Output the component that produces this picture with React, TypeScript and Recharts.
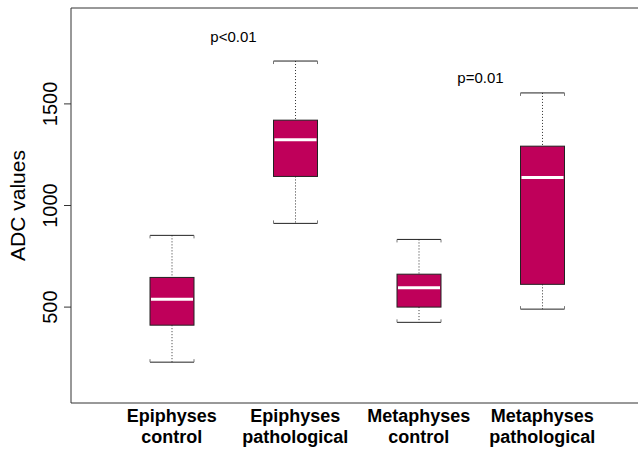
import React from "react";
import {
  ComposedChart,
  Bar,
  XAxis,
  YAxis,
  ReferenceLine,
  ReferenceDot,
} from "recharts";

const categories = [
  "Epiphyses\ncontrol",
  "Epiphyses\npathological",
  "Metaphyses\ncontrol",
  "Metaphyses\npathological",
];
const positions = [1, 2, 3, 4];
const whiskerLow = [229, 912, 425, 490];
const q1 = [411, 1143, 500, 612];
const median = [539, 1323, 595, 1138];
const q3 = [646, 1420, 662, 1292];
const whiskerHigh = [853, 1711, 833, 1554];

const yTicks = [500, 1000, 1500];

const pLabels = ["p<0.01", "p=0.01"];
const pX = [1.5, 3.5];
const pY = [1830, 1630];

const FONT = "'Liberation Sans', Arial, Helvetica, sans-serif";
const BOX_FILL = "#BF005A";

const data = categories.map((name, i) => ({
  name,
  pos: positions[i],
  low: whiskerLow[i],
  q1: q1[i],
  median: median[i],
  q3: q3[i],
  high: whiskerHigh[i],
}));

const BoxShape = (props: any) => {
  const { x, y, width, height, payload } = props;
  const top = Math.min(y, y + height);
  const bottom = Math.max(y, y + height);
  const lo = payload.low;
  const hi = payload.high;
  const py = (v: number) => bottom - ((v - lo) / (hi - lo)) * (bottom - top);
  const cx = x + width / 2;
  const yHi = py(hi);
  const yLo = py(lo);
  const yQ3 = py(payload.q3);
  const yQ1 = py(payload.q1);
  const yMed = py(payload.median);
  return (
    <g>
      {/* whiskers */}
      <line x1={cx} x2={cx} y1={yHi} y2={yQ3} stroke="#333" strokeDasharray="1 2" />
      <line x1={cx} x2={cx} y1={yQ1} y2={yLo} stroke="#333" strokeDasharray="1 2" />
      {/* caps */}
      <line x1={x} x2={x + width} y1={yHi} y2={yHi} stroke="#222" />
      <line x1={x} x2={x} y1={yHi} y2={yHi + 3} stroke="#777" />
      <line x1={x + width} x2={x + width} y1={yHi} y2={yHi + 3} stroke="#777" />
      <line x1={x} x2={x + width} y1={yLo} y2={yLo} stroke="#222" />
      <line x1={x} x2={x} y1={yLo} y2={yLo - 3} stroke="#777" />
      <line x1={x + width} x2={x + width} y1={yLo} y2={yLo - 3} stroke="#777" />
      {/* box */}
      <rect x={x} y={yQ3} width={width} height={yQ1 - yQ3} fill={BOX_FILL} stroke="#222" />
      <line x1={x + 1} x2={x + width - 1} y1={yMed} y2={yMed} stroke="#fff" strokeWidth={3} />
    </g>
  );
};

const YTick = ({ y, payload }: any) => (
  <text
    x={50}
    y={y}
    transform={`rotate(-90, 50, ${y})`}
    textAnchor="middle"
    dominantBaseline="central"
    fontFamily={FONT}
    fontSize={20}
    fill="#000"
  >
    {payload.value}
  </text>
);

const XTick = ({ x, y, payload }: any) => {
  const lines = String(payload.value).split("\n");
  return (
    <g>
      {lines.map((l, i) => (
        <text
          key={i}
          x={x}
          y={y + 11 + i * 21}
          textAnchor="middle"
          dominantBaseline="central"
          fontFamily={FONT}
          fontSize={18}
          fontWeight="bold"
          fill="#000"
        >
          {l}
        </text>
      ))}
    </g>
  );
};

export default function App() {
  return (
    <div
      style={{
        position: "absolute",
        left: 0,
        top: 0,
        width: 638,
        height: 451,
        overflow: "hidden",
        background: "#fff",
      }}
    >
      <ComposedChart
        width={650}
        height={451}
        data={data}
        margin={{ top: 8, right: 7, left: 0, bottom: 0 }}
      >
        <XAxis
          dataKey="name"
          type="category"
          padding={{ left: 39, right: 39 }}
          axisLine={{ stroke: "#333" }}
          tickLine={false}
          tickSize={0}
          height={48}
          tick={<XTick />}
          interval={0}
        />
        <XAxis
          xAxisId="num"
          dataKey="pos"
          type="number"
          domain={[0.184, 4.816]}
          allowDataOverflow
          hide
        />
        <YAxis
          type="number"
          domain={[28, 1972]}
          ticks={yTicks}
          allowDataOverflow
          width={71}
          axisLine={{ stroke: "#333" }}
          tickLine={{ stroke: "#333" }}
          tickSize={7}
          tick={<YTick />}
          label={{
            content: ({ viewBox }: any) => {
              const cy = viewBox.y + viewBox.height / 2;
              return (
                <text
                  x={17}
                  y={cy}
                  transform={`rotate(-90, 17, ${cy})`}
                  textAnchor="middle"
                  dominantBaseline="central"
                  fontFamily={FONT}
                  fontSize={21}
                  fill="#000"
                >
                  ADC values
                </text>
              );
            },
          }}
        />
        <ReferenceLine y={1972} stroke="#333" />
        <Bar
          dataKey={(d: any) => [d.low, d.high]}
          barSize={44}
          shape={<BoxShape />}
          isAnimationActive={false}
        />
        {pLabels.map((t, i) => (
          <ReferenceDot
            key={t}
            xAxisId="num"
            x={pX[i]}
            y={pY[i]}
            r={0}
            fill="none"
            stroke="none"
            ifOverflow="visible"
            label={{
              value: t,
              position: "center",
              fontFamily: FONT,
              fontSize: 15,
              fill: "#000",
            }}
          />
        ))}
      </ComposedChart>
    </div>
  );
}
